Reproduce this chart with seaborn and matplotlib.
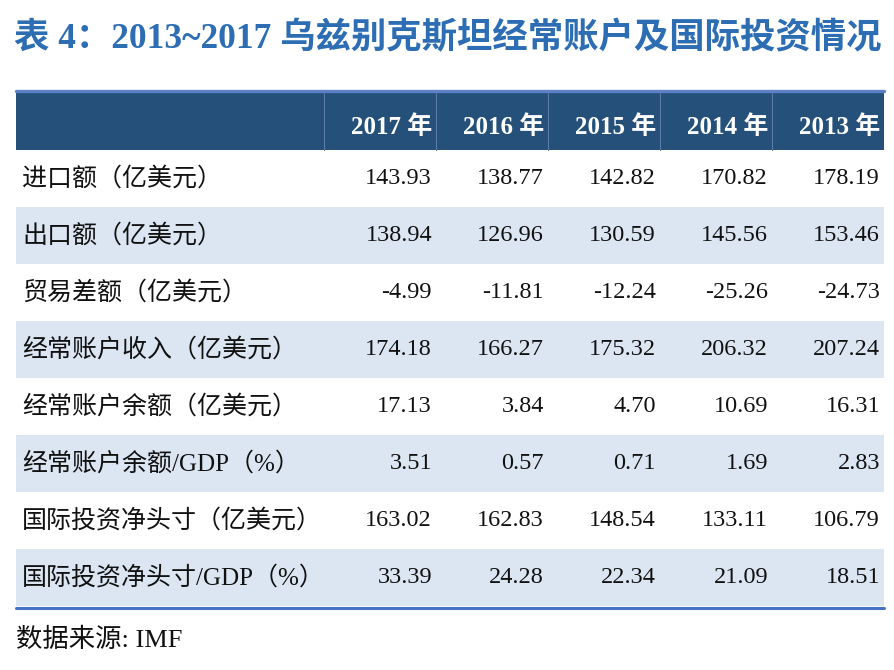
import matplotlib
matplotlib.use("Agg")
import matplotlib.pyplot as plt
from matplotlib.colors import ListedColormap
from matplotlib.lines import Line2D
import seaborn as sns
import numpy as np

sns.set_theme(style="white")
plt.rcParams['font.family'] = ['Liberation Serif', 'Noto Sans CJK SC', 'DejaVu Sans']

title = "表 4：2013~2017 乌兹别克斯坦经常账户及国际投资情况"
source = "数据来源: IMF"

years = ["2017 年", "2016 年", "2015 年", "2014 年", "2013 年"]
row_labels = [
    "进口额（亿美元）",
    "出口额（亿美元）",
    "贸易差额（亿美元）",
    "经常账户收入（亿美元）",
    "经常账户余额（亿美元）",
    "经常账户余额/GDP（%）",
    "国际投资净头寸（亿美元）",
    "国际投资净头寸/GDP（%）",
]
imports = [143.93, 138.77, 142.82, 170.82, 178.19]
exports = [138.94, 126.96, 130.59, 145.56, 153.46]
trade_balance = [-4.99, -11.81, -12.24, -25.26, -24.73]
ca_income = [174.18, 166.27, 175.32, 206.32, 207.24]
ca_balance = [17.13, 3.84, 4.70, 10.69, 16.31]
ca_balance_gdp = [3.51, 0.57, 0.71, 1.69, 2.83]
niip = [163.02, 162.83, 148.54, 133.11, 106.79]
niip_gdp = [33.39, 24.28, 22.34, 21.09, 18.51]

values = np.array([imports, exports, trade_balance, ca_income,
                   ca_balance, ca_balance_gdp, niip, niip_gdp])

W, H = 894, 670
fig = plt.figure(figsize=(W / 100, H / 100), dpi=100)

header_c = '#24507a'
light_c = '#dce6f3'
cmap = ListedColormap(['white', light_c, header_c])

# shading: header = 2, alternate body rows white / light blue
shade_col = np.array([2] + [i % 2 for i in range(len(row_labels))])

left, split, right = 16, 324, 884
top, bottom = 93, 606


def fig_box(x0, x1):
    return [x0 / W, 1 - bottom / H, (x1 - x0) / W, (bottom - top) / H]


ax_lab = fig.add_axes(fig_box(left, split))
ax_val = fig.add_axes(fig_box(split, right))

sns.heatmap(shade_col[:, None], ax=ax_lab, cmap=cmap, vmin=0, vmax=2,
            cbar=False, xticklabels=False, yticklabels=False)
sns.heatmap(np.repeat(shade_col[:, None], len(years), axis=1), ax=ax_val,
            cmap=cmap, vmin=0, vmax=2, cbar=False,
            xticklabels=False, yticklabels=False)

for i, lab in enumerate(row_labels):
    ax_lab.text(0.02, i + 1.5, lab, ha='left', va='center', fontsize=18,
                color='#111111')

for j, yr in enumerate(years):
    ax_val.text(j + 0.965, 0.6, yr, ha='right', va='center', fontsize=18,
                color='white', fontweight='bold')
    for i in range(len(row_labels)):
        ax_val.text(j + 0.965, i + 1.5, f"{values[i, j]:.2f}", ha='right',
                    va='center', fontsize=17.5, color='#111111')

# header dividers
for j in range(len(years)):
    ax_val.plot([j, j], [0, 1], color='#5b7ca3', lw=0.8)

for a in (ax_lab, ax_val):
    for s in a.spines.values():
        s.set_visible(False)

# top and bottom rules
fig.add_artist(Line2D([left / W, right / W], [1 - 90.5 / H, 1 - 90.5 / H],
                      color='#5b80c8', lw=2.4))
fig.add_artist(Line2D([left / W, right / W], [1 - 607.5 / H, 1 - 607.5 / H],
                      color='#4472c4', lw=2.2))

fig.text(14 / W, 1 - 39 / H, title, ha='left', va='center', fontsize=25.5,
         fontweight='bold', color='#2c6db3')
fig.text(16 / W, 1 - 640 / H, source, ha='left', va='center', fontsize=19,
         color='#111111')

fig.savefig("out.png", dpi=100)
